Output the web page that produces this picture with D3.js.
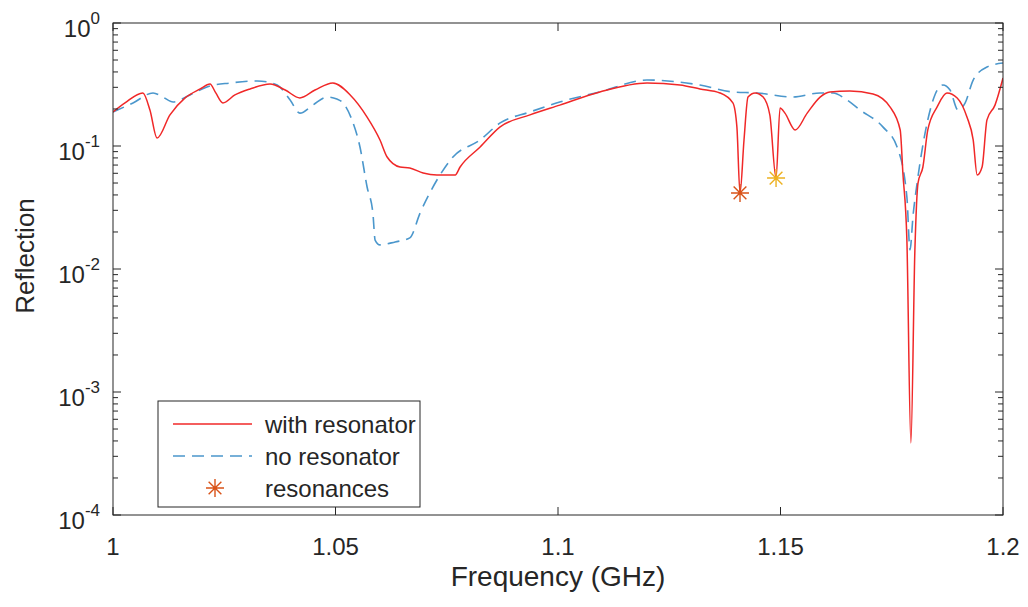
<!DOCTYPE html>
<html lang="en">
<head>
<meta charset="UTF-8">
<script src="https://d3js.org/d3.v7.min.js"></script>
<title>Reflection</title>
<style>
    body { margin: 0; background: white; }
    text { font-family: Arial, "Liberation Sans", Helvetica, sans-serif; fill: #262626; }
</style>
</head>
<body>
<div id="chart"></div>
<script>
// ---------------- data ----------------
const redFreq = [1.000, 1.0027, 1.0067, 1.0083, 1.0099, 1.0128, 1.0162, 1.0196, 1.0218, 1.0231,
    1.0247, 1.0274, 1.0308, 1.0353, 1.0387, 1.0420, 1.0454, 1.0494, 1.0533, 1.0571,
    1.0600, 1.0616, 1.0645, 1.0667, 1.0697, 1.0728, 1.0769, 1.0780, 1.0825, 1.0870,
    1.0937, 1.1004, 1.1094, 1.1200, 1.1274, 1.1319, 1.1364, 1.1393, 1.1402, 1.1409,
    1.1418, 1.1427, 1.1443, 1.1461, 1.1476, 1.1490, 1.1499, 1.1510, 1.1533, 1.1560,
    1.1589, 1.1611, 1.1656, 1.1708, 1.1746, 1.1769, 1.1775, 1.1784, 1.1793, 1.1802,
    1.1809, 1.1820, 1.1831, 1.1852, 1.1874, 1.1897, 1.1919, 1.1933, 1.1942, 1.1953,
    1.1964, 1.1982, 1.2000];
const redVal = [0.189, 0.224, 0.270, 0.196, 0.116, 0.179, 0.246, 0.291, 0.319, 0.270,
    0.224, 0.260, 0.291, 0.319, 0.285, 0.246, 0.285, 0.325, 0.260, 0.172,
    0.112, 0.0814, 0.0675, 0.0663, 0.0603, 0.0581, 0.0581, 0.0675, 0.0981, 0.143,
    0.179, 0.215, 0.275, 0.325, 0.313, 0.291, 0.270, 0.224, 0.143, 0.0415,
    0.112, 0.250, 0.270, 0.250, 0.179, 0.0549, 0.204, 0.185, 0.135, 0.185,
    0.250, 0.275, 0.280, 0.265, 0.208, 0.135, 0.0603, 0.0172, 0.000385, 0.0143,
    0.0500, 0.0675, 0.135, 0.208, 0.270, 0.246, 0.172, 0.112, 0.0581, 0.0675,
    0.163, 0.215, 0.357];

const blueFreq = [1.000, 1.0045, 1.0090, 1.0112, 1.0135, 1.0173, 1.0218, 1.0263, 1.0324, 1.0369,
    1.0398, 1.0420, 1.0449, 1.0481, 1.0503, 1.0517, 1.0537, 1.0555, 1.0571, 1.0584,
    1.0589, 1.0600, 1.0634, 1.0667, 1.0690, 1.0728, 1.0764, 1.0825, 1.0870, 1.0937,
    1.1004, 1.1094, 1.1200, 1.1319, 1.1393, 1.1447, 1.1528, 1.1589, 1.1618, 1.1649,
    1.1679, 1.1730, 1.1762, 1.1784, 1.1791, 1.1798, 1.1807, 1.1831, 1.1847, 1.1865,
    1.1881, 1.1899, 1.1915, 1.1933, 1.1964, 1.2000];
const blueVal = [0.189, 0.224, 0.270, 0.250, 0.228, 0.260, 0.308, 0.325, 0.338, 0.313,
    0.237, 0.185, 0.215, 0.250, 0.241, 0.224, 0.163, 0.0981, 0.0464, 0.0285,
    0.0172, 0.0157, 0.0166, 0.0179, 0.0285, 0.0529, 0.0814, 0.112, 0.154, 0.189,
    0.228, 0.275, 0.344, 0.313, 0.275, 0.270, 0.250, 0.270, 0.270, 0.237,
    0.196, 0.143, 0.0981, 0.0385, 0.0143, 0.0275, 0.0500, 0.163, 0.260, 0.313,
    0.285, 0.196, 0.224, 0.344, 0.439, 0.473];

const resFreq = [1.1409, 1.1490];
const resVal = [0.0415, 0.0549];
const resColors = ["#d95319", "#edb120"];

const xTicks = [1, 1.05, 1.1, 1.15, 1.2];
const xTickLabels = ["1", "1.05", "1.1", "1.15", "1.2"];
const yExponents = [0, -1, -2, -3, -4];

const legendLabels = ["with resonator", "no resonator", "resonances"];

// ---------------- layout ----------------
const width = 1028, height = 607;
const plot = { left: 113, right: 1003, top: 23, bottom: 515 };

const svg = d3.select("#chart").append("svg")
    .attr("width", width)
    .attr("height", height)
    .style("display", "block");

svg.append("rect").attr("width", width).attr("height", height).attr("fill", "white");

const x = d3.scaleLinear().domain([1, 1.2]).range([plot.left, plot.right]);
const y = d3.scaleLog().domain([1e-4, 1]).range([plot.bottom, plot.top]);

const axisColor = "#262626";
const redColor = "#f02828";
const blueColor = "#4b97cc";

// clip for curves
svg.append("clipPath").attr("id", "clip")
    .append("rect")
    .attr("x", plot.left).attr("y", plot.top)
    .attr("width", plot.right - plot.left).attr("height", plot.bottom - plot.top);

// ---------------- curves ----------------
const line = d3.line()
    .x(d => x(d[0]))
    .y(d => y(d[1]))
    .curve(d3.curveMonotoneX);

const redData = redFreq.map((f, i) => [f, redVal[i]]);
const blueData = blueFreq.map((f, i) => [f, blueVal[i]]);

const curves = svg.append("g").attr("clip-path", "url(#clip)");

curves.append("path")
    .attr("d", line(blueData))
    .attr("fill", "none")
    .attr("stroke", blueColor)
    .attr("stroke-width", 1.6)
    .attr("stroke-dasharray", "12,7");

curves.append("path")
    .attr("d", line(redData))
    .attr("fill", "none")
    .attr("stroke", redColor)
    .attr("stroke-width", 1.5);

// asterisk marker like matlab '*'
const asterisk = {
    draw(context, size) {
        const r = Math.sqrt(size) / 2;
        const d = r * Math.SQRT1_2;
        context.moveTo(-r, 0); context.lineTo(r, 0);
        context.moveTo(0, -r); context.lineTo(0, r);
        context.moveTo(-d, -d); context.lineTo(d, d);
        context.moveTo(-d, d); context.lineTo(d, -d);
    }
};
const star = d3.symbol().type(asterisk).size(324);

svg.selectAll(".res")
    .data(resFreq)
    .enter()
    .append("path")
    .attr("class", "res")
    .attr("d", star)
    .attr("transform", (d, i) => `translate(${x(d)},${y(resVal[i])})`)
    .attr("fill", "none")
    .attr("stroke", (d, i) => resColors[i])
    .attr("stroke-width", 1.4);

// ---------------- axes ----------------
const axes = svg.append("g");

axes.append("rect")
    .attr("x", plot.left).attr("y", plot.top)
    .attr("width", plot.right - plot.left).attr("height", plot.bottom - plot.top)
    .attr("fill", "none")
    .attr("stroke", axisColor)
    .attr("stroke-width", 1);

const majorLen = 8, minorLen = 5;

// x ticks, inward on bottom and top
xTicks.forEach((t, i) => {
    const px = x(t);
    axes.append("line").attr("x1", px).attr("x2", px)
        .attr("y1", plot.bottom).attr("y2", plot.bottom - majorLen)
        .attr("stroke", axisColor);
    axes.append("line").attr("x1", px).attr("x2", px)
        .attr("y1", plot.top).attr("y2", plot.top + majorLen)
        .attr("stroke", axisColor);
    axes.append("text")
        .attr("x", px).attr("y", plot.bottom + 40)
        .attr("text-anchor", "middle")
        .style("font-size", "24px")
        .text(xTickLabels[i]);
});

// y ticks, decades + minor
yExponents.forEach(e => {
    const py = y(Math.pow(10, e));
    [plot.left, plot.right].forEach((ax, side) => {
        const dir = side === 0 ? 1 : -1;
        axes.append("line").attr("x1", ax).attr("x2", ax + dir * majorLen)
            .attr("y1", py).attr("y2", py).attr("stroke", axisColor);
        if (e < 0) {
            d3.range(2, 10).forEach(m => {
                const pm = y(m * Math.pow(10, e));
                axes.append("line").attr("x1", ax).attr("x2", ax + dir * minorLen)
                    .attr("y1", pm).attr("y2", pm).attr("stroke", axisColor);
            });
        }
    });
    const lab = axes.append("text")
        .attr("x", plot.left - 13).attr("y", py + 14)
        .attr("text-anchor", "end")
        .style("font-size", "24px");
    lab.append("tspan").text("10");
    lab.append("tspan").attr("dy", -13).style("font-size", "17px").text(e === 0 ? "0" : "-" + (-e));
});

// axis labels
svg.append("text")
    .attr("x", (plot.left + plot.right) / 2)
    .attr("y", 586)
    .attr("text-anchor", "middle")
    .style("font-size", "28px")
    .text("Frequency (GHz)");

svg.append("text")
    .attr("transform", `translate(34,256) rotate(-90)`)
    .attr("text-anchor", "middle")
    .style("font-size", "26px")
    .text("Reflection");

// ---------------- legend ----------------
const legend = svg.append("g");
legend.append("rect")
    .attr("x", 158).attr("y", 401)
    .attr("width", 262).attr("height", 106)
    .attr("fill", "white")
    .attr("stroke", axisColor);

const rowY = [424, 456, 488];

legend.append("line").attr("x1", 173).attr("x2", 252)
    .attr("y1", rowY[0]).attr("y2", rowY[0])
    .attr("stroke", redColor).attr("stroke-width", 1.5);
legend.append("line").attr("x1", 173).attr("x2", 252)
    .attr("y1", rowY[1]).attr("y2", rowY[1])
    .attr("stroke", blueColor).attr("stroke-width", 1.6)
    .attr("stroke-dasharray", "12,7");
legend.append("path")
    .attr("d", star)
    .attr("transform", `translate(215,${rowY[2]})`)
    .attr("fill", "none")
    .attr("stroke", resColors[0])
    .attr("stroke-width", 1.4);

legend.selectAll(".lt")
    .data(legendLabels)
    .enter()
    .append("text")
    .attr("class", "lt")
    .attr("x", 265)
    .attr("y", (d, i) => rowY[i] + 8.5)
    .style("font-size", "24px")
    .text(d => d);
</script>
</body>
</html>
